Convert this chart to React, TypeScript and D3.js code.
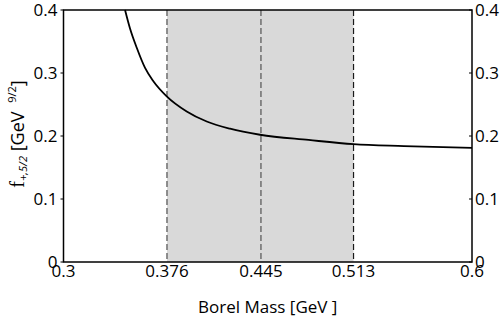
import React from "react";
import * as d3 from "d3";

const massValues = [0.3452, 0.3488, 0.3538, 0.3599, 0.366, 0.3758, 0.3905, 0.4052, 0.4223, 0.4443, 0.48, 0.513, 0.55, 0.6];
const fValues = [0.4, 0.371, 0.34, 0.308, 0.287, 0.263, 0.239, 0.223, 0.2116, 0.202, 0.1937, 0.187, 0.184, 0.181];
const xTicks = [0.3, 0.376, 0.445, 0.513, 0.6];
const xTickLabels = ["0.3", "0.376", "0.445", "0.513", "0.6"];
const yTicks = [0, 0.1, 0.2, 0.3, 0.4];
const yTickLabels = ["0", "0.1", "0.2", "0.3", "0.4"];
const bandRange = [0.376, 0.513];
const dashedLines = [0.376, 0.445, 0.513];
const dashedColors = ["#6e6e6e", "#6e6e6e", "#1a1a1a"];

const W = 500, H = 319;
const L = 63.5, R = 472, T = 10, B = 262;
const FONT = "'Open Sans', 'Noto Sans', sans-serif";

export default function App() {
  const x = d3.scaleLinear().domain([0.3, 0.6]).range([L, R]);
  const y = d3.scaleLinear().domain([0, 0.4]).range([B, T]);
  const pts = massValues.map((m, i) => [m, fValues[i]] as [number, number]);
  const line = d3.line<[number, number]>().x(d => x(d[0])).y(d => y(d[1])).curve(d3.curveMonotoneX);

  return (
    <svg width={W} height={H} style={{ position: "absolute", left: 0, top: 0 }} fontFamily={FONT}>
      <rect x={0} y={0} width={W} height={H} fill="#fff" />
      <rect x={x(bandRange[0])} y={T} width={x(bandRange[1]) - x(bandRange[0])} height={B - T} fill="#d9d9d9" />
      {dashedLines.map((v, i) => (
        <line key={i} x1={x(v)} x2={x(v)} y1={T} y2={B} stroke={dashedColors[i]} strokeWidth={i === 2 ? 1.2 : 1.5} strokeDasharray="6,3" />
      ))}
      <path d={line(pts) || ""} fill="none" stroke="#000" strokeWidth={1.8} />
      <rect x={L} y={T} width={R - L} height={B - T} fill="none" stroke="#000" strokeWidth={1.5} />
      {yTicks.map((v, i) => (
        <g key={i}>
          <line x1={L - 3} x2={L} y1={y(v)} y2={y(v)} stroke="#000" strokeWidth={1} />
          <line x1={R - 3} x2={R} y1={y(v)} y2={y(v)} stroke="#000" strokeWidth={1} />
          <text x={L - 6} y={y(v) + 6} fontSize={17} textAnchor="end" fill="#000">{yTickLabels[i]}</text>
          <text x={R + 3} y={y(v) + 6} fontSize={17} textAnchor="start" fill="#000">{yTickLabels[i]}</text>
        </g>
      ))}
      {xTicks.map((v, i) => (
        <text key={i} x={x(v)} y={277} fontSize={17} textAnchor="middle" fill="#000">{xTickLabels[i]}</text>
      ))}
      <text x={(L + R) / 2} y={313} fontSize={17} textAnchor="middle" fill="#000">Borel Mass [GeV ]</text>
      <text transform={`translate(24,134) rotate(-90)`} textAnchor="middle" fill="#000" fontSize={18}>
        <tspan fontFamily="'Liberation Serif', serif" fontSize={20}>f</tspan>
        <tspan fontSize={11} fontStyle="italic" dy={3}>+,5/2</tspan>
        <tspan dy={-3}> [GeV  </tspan>
        <tspan fontSize={11} dy={-8} dx={4}>9/2</tspan>
        <tspan dy={8}>]</tspan>
      </text>
    </svg>
  );
}
